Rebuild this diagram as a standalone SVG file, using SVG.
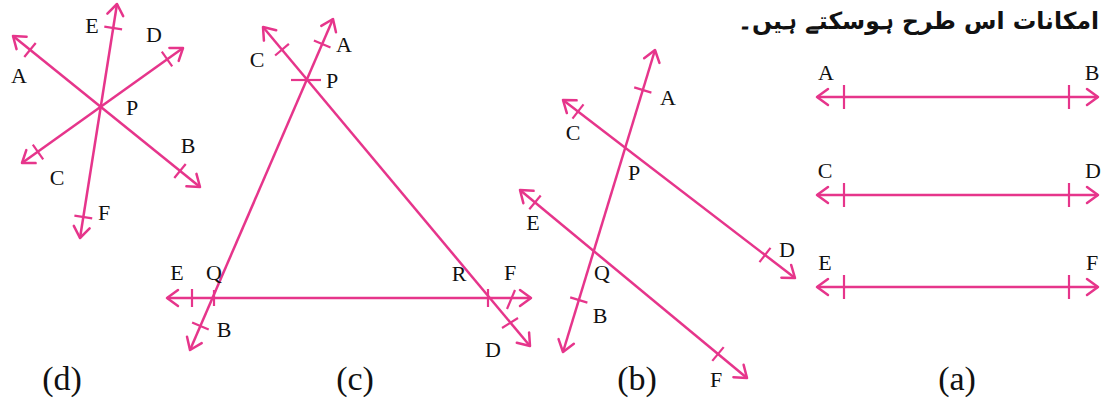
<svg xmlns="http://www.w3.org/2000/svg" width="1103" height="403" viewBox="0 0 1103 403">
<defs>
<marker id="arr" markerUnits="userSpaceOnUse" markerWidth="30" markerHeight="30" refX="0" refY="0" orient="auto-start-reverse" viewBox="-15 -15 30 30" overflow="visible">
<path d="M-11,-8 L0,0 L-11,8" fill="none" stroke="#E6358B" stroke-width="2.5" stroke-linecap="round" stroke-linejoin="round"/>
</marker>
<style>
.ln{stroke:#E6358B;stroke-width:2.5;fill:none;marker-start:url(#arr);marker-end:url(#arr)}
.tk{stroke:#E6358B;stroke-width:2.2;fill:none}
.lb{font-family:"Liberation Serif","Times New Roman",serif;font-size:22px;fill:#111;text-anchor:middle}
.cap{font-family:"Liberation Serif","Times New Roman",serif;font-size:34px;fill:#111;text-anchor:middle}
.ur{font-family:"DejaVu Sans","Noto Sans",sans-serif;font-size:23.5px;font-weight:bold;fill:#111}
</style>
</defs>
<rect width="1103" height="403" fill="#fff"/>

<text class="ur" x="1099" y="29" text-anchor="end">امکانات اس طرح ہوسکتے ہیں۔</text>

<!-- (d) -->
<g id="fig-d">
<g id="d-lines">
<line class="ln" x1="13" y1="36" x2="200" y2="187"/>
<line class="ln" x1="22" y1="163" x2="183" y2="48"/>
<line class="ln" x1="117" y1="4" x2="80" y2="238"/>
<line class="tk" x1="24.3" y1="57" x2="35.7" y2="43"/>
<line class="tk" x1="174.3" y1="178" x2="185.7" y2="164"/>
<line class="tk" x1="32.8" y1="144.7" x2="43.2" y2="159.3"/>
<line class="tk" x1="161.8" y1="51.7" x2="172.2" y2="66.3"/>
<line class="tk" x1="104.3" y1="26.6" x2="122.1" y2="29.4"/>
<line class="tk" x1="74.4" y1="215.6" x2="92.2" y2="218.4"/>
</g>
<text class="lb" x="92" y="33">E</text>
<text class="lb" x="154" y="42">D</text>
<text class="lb" x="19" y="83">A</text>
<text class="lb" x="132" y="115">P</text>
<text class="lb" x="188" y="153">B</text>
<text class="lb" x="57" y="185">C</text>
<text class="lb" x="104" y="220">F</text>
<text class="cap" x="62" y="390">(d)</text>
</g>

<!-- (c) -->
<g id="fig-c">
<g id="c-lines">
<line class="ln" x1="263" y1="27" x2="530" y2="346"/>
<line class="ln" x1="333" y1="19" x2="190" y2="350"/>
<line class="ln" x1="167" y1="298" x2="531" y2="298"/>
<line class="tk" x1="275.1" y1="55.5" x2="288.9" y2="43.9"/>
<line class="tk" x1="313.9" y1="40.4" x2="330.5" y2="47.6"/>
<line class="tk" x1="291" y1="80" x2="321" y2="80"/>
<line class="tk" x1="192" y1="289" x2="192" y2="307"/>
<line class="tk" x1="214" y1="290" x2="214" y2="306"/>
<line class="tk" x1="488" y1="289" x2="488" y2="307"/>
<line class="tk" x1="507" y1="309" x2="515" y2="290"/>
<line class="tk" x1="192.1" y1="322.4" x2="208.7" y2="329.6"/>
<line class="tk" x1="502" y1="328" x2="518" y2="318"/>
</g>
<text class="lb" x="257" y="67">C</text>
<text class="lb" x="344" y="52">A</text>
<text class="lb" x="332" y="88">P</text>
<text class="lb" x="177" y="280">E</text>
<text class="lb" x="214" y="280">Q</text>
<text class="lb" x="459" y="281">R</text>
<text class="lb" x="510" y="280">F</text>
<text class="lb" x="224" y="337">B</text>
<text class="lb" x="493" y="357">D</text>
<text class="cap" x="355" y="390">(c)</text>
</g>

<!-- (b) -->
<g id="fig-b">
<g id="b-lines">
<line class="ln" x1="655" y1="50" x2="563" y2="352"/>
<line class="ln" x1="563" y1="100" x2="795" y2="278"/>
<line class="ln" x1="520" y1="190" x2="747" y2="378"/>
<line class="tk" x1="634.2" y1="87.4" x2="651.4" y2="92.6"/>
<line class="tk" x1="570.2" y1="297.4" x2="587.4" y2="302.6"/>
<line class="tk" x1="583.5" y1="104.4" x2="572.5" y2="118.6"/>
<line class="tk" x1="770.5" y1="247.9" x2="759.5" y2="262.1"/>
<line class="tk" x1="540.7" y1="195.5" x2="529.3" y2="209.3"/>
<line class="tk" x1="723.7" y1="347.1" x2="712.3" y2="360.9"/>
</g>
<text class="lb" x="668" y="105">A</text>
<text class="lb" x="573" y="140">C</text>
<text class="lb" x="634" y="180">P</text>
<text class="lb" x="533" y="230">E</text>
<text class="lb" x="787" y="257">D</text>
<text class="lb" x="602" y="280">Q</text>
<text class="lb" x="600" y="323">B</text>
<text class="lb" x="716" y="387">F</text>
<text class="cap" x="637" y="390">(b)</text>
</g>

<!-- (a) -->
<g id="fig-a">
<g id="a-lines">
<line class="ln" x1="817" y1="97" x2="1098" y2="97"/>
<line class="ln" x1="817" y1="195" x2="1098" y2="195"/>
<line class="ln" x1="817" y1="287" x2="1098" y2="287"/>
<line class="tk" x1="844" y1="85" x2="844" y2="109"/>
<line class="tk" x1="1069" y1="85" x2="1069" y2="109"/>
<line class="tk" x1="844" y1="183" x2="844" y2="207"/>
<line class="tk" x1="1069" y1="183" x2="1069" y2="207"/>
<line class="tk" x1="844" y1="275" x2="844" y2="299"/>
<line class="tk" x1="1069" y1="275" x2="1069" y2="299"/>
</g>
<text class="lb" x="826" y="80">A</text>
<text class="lb" x="1092" y="80">B</text>
<text class="lb" x="825" y="178">C</text>
<text class="lb" x="1093" y="178">D</text>
<text class="lb" x="825" y="270">E</text>
<text class="lb" x="1092" y="270">F</text>
<text class="cap" x="957" y="390">(a)</text>
</g>
</svg>
